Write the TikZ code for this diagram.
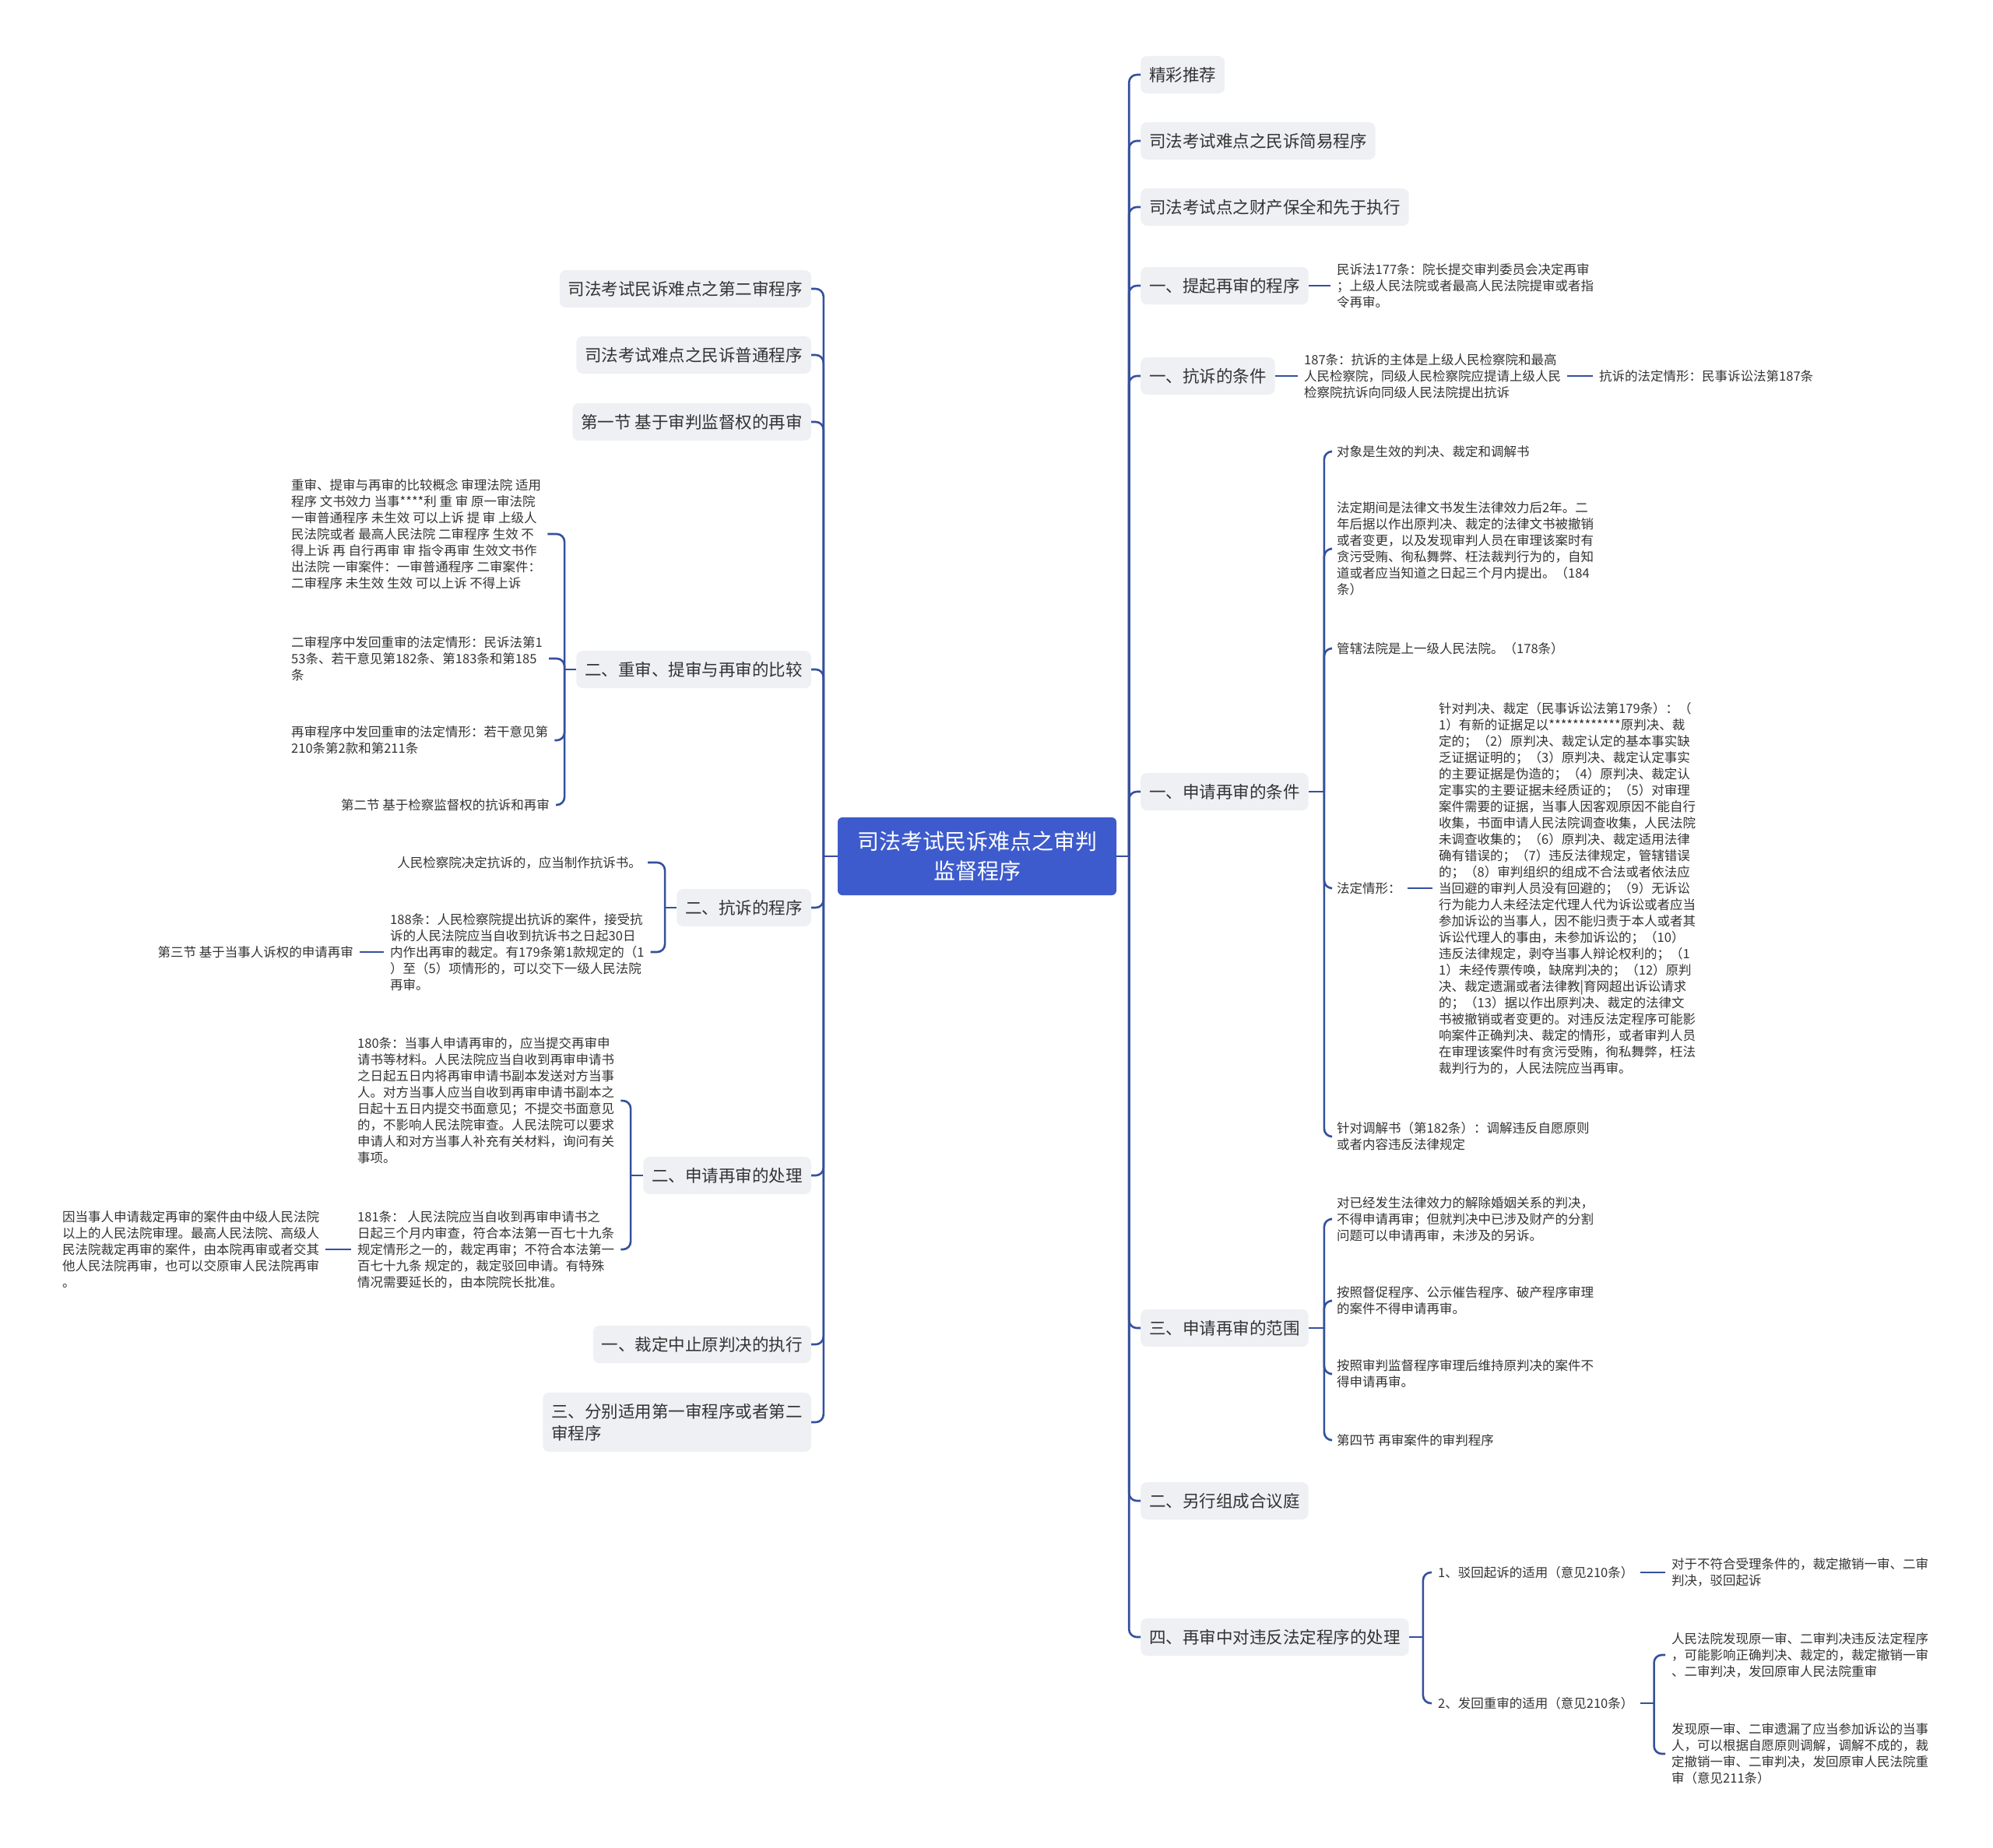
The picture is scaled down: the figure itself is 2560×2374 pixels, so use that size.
\documentclass[tikz,border=0pt]{standalone}
\usepackage{fontspec}
\setmainfont{Noto Sans CJK SC}
\definecolor{conncol}{HTML}{34509E}
\definecolor{hdrfill}{HTML}{EEF0F4}
\definecolor{rootfill}{HTML}{3D5BCC}
\definecolor{txt}{HTML}{333333}
\tikzset{
 conn/.style={draw=conncol, line width=2.6pt, rounded corners=10pt},
 hdr/.style={fill=hdrfill, rounded corners=8pt, inner xsep=11pt, inner ysep=0pt, minimum height=48pt, text=txt, font=\fontsize{21.5}{28}\selectfont, align=left},
 leaf/.style={inner xsep=8pt, inner ysep=2pt, text=txt, font=\fontsize{16.5}{21}\selectfont, align=left},
 rootbox/.style={fill=rootfill, rounded corners=6pt, minimum width=358pt, minimum height=100pt, text=white, font=\fontsize{28}{38}\selectfont, align=center}
}
\begin{document}
\begin{tikzpicture}[x=1pt,y=-1pt]
\useasboundingbox (0,0) rectangle (2560,2374);
% root
\node[rootbox] (root) at (1255,1100) {司法考试民诉难点之审判\\监督程序};
% right headers
\node[hdr, anchor=west] (r1) at (1465,96) {精彩推荐};
\node[hdr, anchor=west] (r2) at (1465,181) {司法考试难点之民诉简易程序};
\node[hdr, anchor=west] (r3) at (1465,266) {司法考试点之财产保全和先于执行};
\node[hdr, anchor=west] (r4) at (1465,367) {一、提起再审的程序};
\node[hdr, anchor=west] (r5) at (1465,483) {一、抗诉的条件};
\node[hdr, anchor=west] (r6) at (1465,1017) {一、申请再审的条件};
\node[hdr, anchor=west] (r7) at (1465,1706) {三、申请再审的范围};
\node[hdr, anchor=west] (r8) at (1465,1928) {二、另行组成合议庭};
\node[hdr, anchor=west] (r9) at (1465,2103) {四、再审中对违反法定程序的处理};
% left headers
\node[hdr, anchor=east] (l1) at (1042,371) {司法考试民诉难点之第二审程序};
\node[hdr, anchor=east] (l2) at (1042,456) {司法考试难点之民诉普通程序};
\node[hdr, anchor=east] (l3) at (1042,542) {第一节 基于审判监督权的再审};
\node[hdr, anchor=east] (l4) at (1042,860) {二、重审、提审与再审的比较};
\node[hdr, anchor=east] (l5) at (1042,1166) {二、抗诉的程序};
\node[hdr, anchor=east] (l6) at (1042,1510) {二、申请再审的处理};
\node[hdr, anchor=east] (l7) at (1042,1727) {一、裁定中止原判决的执行};
\node[hdr, anchor=east, minimum height=76pt] (l8) at (1042,1827) {三、分别适用第一审程序或者第二\\审程序};
% spines from root
\draw[conn] (root.east) -- ++(16,0) coordinate (bR);
\foreach \c in {r1,r2,r3,r4,r5,r6,r7,r8,r9} \draw[conn] (bR) |- (\c.west);
\draw[conn] (root.west) -- ++(-18,0) coordinate (bL);
\foreach \c in {l1,l2,l3,l4,l5,l6,l7,l8} \draw[conn] (bL) |- (\c.east);
% ---- right children
\node[leaf, anchor=west] (r4a) at (1709,367) {民诉法177条：院长提交审判委员会决定再审\\；上级人民法院或者最高人民法院提审或者指\\令再审。};
\draw[conn] (r4.east) -- (r4a.west);
\node[leaf, anchor=west] (r5a) at (1667,483) {187条：抗诉的主体是上级人民检察院和最高\\人民检察院，同级人民检察院应提请上级人民\\检察院抗诉向同级人民法院提出抗诉};
\node[leaf, anchor=west] (r5b) at (2046,483) {抗诉的法定情形：民事诉讼法第187条};
\draw[conn] (r5.east) -- (r5a.west);
\draw[conn] (r5a.east) -- (r5b.west);
% r6
\node[leaf, anchor=west] (r6a) at (1709,580) {对象是生效的判决、裁定和调解书};
\node[leaf, anchor=west] (r6b) at (1709,705) {法定期间是法律文书发生法律效力后2年。二\\年后据以作出原判决、裁定的法律文书被撤销\\或者变更，以及发现审判人员在审理该案时有\\贪污受贿、徇私舞弊、枉法裁判行为的，自知\\道或者应当知道之日起三个月内提出。（184\\条）};
\node[leaf, anchor=west] (r6c) at (1709,833) {管辖法院是上一级人民法院。（178条）};
\node[leaf, anchor=west] (r6d) at (1709,1141) {法定情形：};
\node[leaf, anchor=west] (r6e) at (1709,1460) {针对调解书（第182条）：调解违反自愿原则\\或者内容违反法律规定};
\node[leaf, anchor=west] (r6d1) at (1840,1141) {针对判决、裁定（民事诉讼法第179条）：（\\1）有新的证据足以************原判决、裁\\定的；（2）原判决、裁定认定的基本事实缺\\乏证据证明的；（3）原判决、裁定认定事实\\的主要证据是伪造的；（4）原判决、裁定认\\定事实的主要证据未经质证的；（5）对审理\\案件需要的证据，当事人因客观原因不能自行\\收集，书面申请人民法院调查收集，人民法院\\未调查收集的；（6）原判决、裁定适用法律\\确有错误的；（7）违反法律规定，管辖错误\\的；（8）审判组织的组成不合法或者依法应\\当回避的审判人员没有回避的；（9）无诉讼\\行为能力人未经法定代理人代为诉讼或者应当\\参加诉讼的当事人，因不能归责于本人或者其\\诉讼代理人的事由，未参加诉讼的；（10）\\违反法律规定，剥夺当事人辩论权利的；（1\\1）未经传票传唤，缺席判决的；（12）原判\\决、裁定遗漏或者法律教|育网超出诉讼请求\\的；（13）据以作出原判决、裁定的法律文\\书被撤销或者变更的。对违反法定程序可能影\\响案件正确判决、裁定的情形，或者审判人员\\在审理该案件时有贪污受贿，徇私舞弊，枉法\\裁判行为的，人民法院应当再审。};
\draw[conn] (r6.east) -- ++(20,0) coordinate (b6);
\foreach \c in {r6a,r6b,r6c,r6d,r6e} \draw[conn] (b6) |- (\c.west);
\draw[conn] (r6d.east) -- (r6d1.west);
% r7
\node[leaf, anchor=west] (r7a) at (1709,1566) {对已经发生法律效力的解除婚姻关系的判决，\\不得申请再审；但就判决中已涉及财产的分割\\问题可以申请再审，未涉及的另诉。};
\node[leaf, anchor=west] (r7b) at (1709,1671) {按照督促程序、公示催告程序、破产程序审理\\的案件不得申请再审。};
\node[leaf, anchor=west] (r7c) at (1709,1765) {按照审判监督程序审理后维持原判决的案件不\\得申请再审。};
\node[leaf, anchor=west] (r7d) at (1709,1850) {第四节 再审案件的审判程序};
\draw[conn] (r7.east) -- ++(20,0) coordinate (b7);
\foreach \c in {r7a,r7b,r7c,r7d} \draw[conn] (b7) |- (\c.west);
% r9
\node[leaf, anchor=west] (r9a) at (1839,2020) {1、驳回起诉的适用（意见210条）};
\node[leaf, anchor=west] (r9b) at (1839,2188) {2、发回重审的适用（意见210条）};
\node[leaf, anchor=west] (r9a1) at (2139,2020) {对于不符合受理条件的，裁定撤销一审、二审\\判决，驳回起诉};
\node[leaf, anchor=west] (r9b1) at (2139,2126) {人民法院发现原一审、二审判决违反法定程序\\，可能影响正确判决、裁定的，裁定撤销一审\\、二审判决，发回原审人民法院重审};
\node[leaf, anchor=west] (r9b2) at (2139,2253) {发现原一审、二审遗漏了应当参加诉讼的当事\\人，可以根据自愿原则调解，调解不成的，裁\\定撤销一审、二审判决，发回原审人民法院重\\审（意见211条）};
\draw[conn] (r9.east) -- ++(18,0) coordinate (b9);
\foreach \c in {r9a,r9b} \draw[conn] (b9) |- (\c.west);
\draw[conn] (r9a.east) -- (r9a1.west);
\draw[conn] (r9b.east) -- ++(18,0) coordinate (b9b);
\foreach \c in {r9b1,r9b2} \draw[conn] (b9b) |- (\c.west);
% ---- left children
\node[leaf, anchor=west] (l4a) at (366,686) {重审、提审与再审的比较概念 审理法院 适用\\程序 文书效力 当事****利 重 审 原一审法院\\一审普通程序 未生效 可以上诉 提 审 上级人\\民法院或者 最高人民法院 二审程序 生效 不\\得上诉 再 自行再审 审 指令再审 生效文书作\\出法院 一审案件：一审普通程序 二审案件：\\二审程序 未生效 生效 可以上诉 不得上诉};
\node[leaf, anchor=west] (l4b) at (366,846) {二审程序中发回重审的法定情形：民诉法第1\\53条、若干意见第182条、第183条和第185\\条};
\node[leaf, anchor=west] (l4c) at (366,951) {再审程序中发回重审的法定情形：若干意见第\\210条第2款和第211条};
\node[leaf, anchor=east] (l4d) at (714,1034) {第二节 基于检察监督权的抗诉和再审};
\draw[conn] (l4.west) -- ++(-15,0) coordinate (b4);
\foreach \c in {l4a,l4b,l4c,l4d} \draw[conn] (b4) |- (\c.east);
% l5
\node[leaf, anchor=east] (l5a) at (832,1108) {人民检察院决定抗诉的，应当制作抗诉书。};
\node[leaf, anchor=west] (l5b) at (493,1223) {188条：人民检察院提出抗诉的案件，接受抗\\诉的人民法院应当自收到抗诉书之日起30日\\内作出再审的裁定。有179条第1款规定的（1\\）至（5）项情形的，可以交下一级人民法院\\再审。};
\node[leaf, anchor=east] (l5b1) at (462,1223) {第三节 基于当事人诉权的申请再审};
\draw[conn] (l5.west) -- ++(-15,0) coordinate (b5);
\foreach \c in {l5a,l5b} \draw[conn] (b5) |- (\c.east);
\draw[conn] (l5b.west) -- (l5b1.east);
% l6
\node[leaf, anchor=west] (l6a) at (451,1414) {180条：当事人申请再审的，应当提交再审申\\请书等材料。人民法院应当自收到再审申请书\\之日起五日内将再审申请书副本发送对方当事\\人。对方当事人应当自收到再审申请书副本之\\日起十五日内提交书面意见；不提交书面意见\\的，不影响人民法院审查。人民法院可以要求\\申请人和对方当事人补充有关材料，询问有关\\事项。};
\node[leaf, anchor=west] (l6b) at (451,1605) {181条： 人民法院应当自收到再审申请书之\\日起三个月内审查，符合本法第一百七十九条\\规定情形之一的，裁定再审；不符合本法第一\\百七十九条 规定的，裁定驳回申请。有特殊\\情况需要延长的，由本院院长批准。};
\node[leaf, anchor=west] (l6b1) at (72,1605) {因当事人申请裁定再审的案件由中级人民法院\\以上的人民法院审理。最高人民法院、高级人\\民法院裁定再审的案件，由本院再审或者交其\\他人民法院再审，也可以交原审人民法院再审\\。};
\draw[conn] (l6.west) -- ++(-16,0) coordinate (b6L);
\foreach \c in {l6a,l6b} \draw[conn] (b6L) |- (\c.east);
\draw[conn] (l6b.west) -- (l6b1.east);
\end{tikzpicture}
\end{document}
